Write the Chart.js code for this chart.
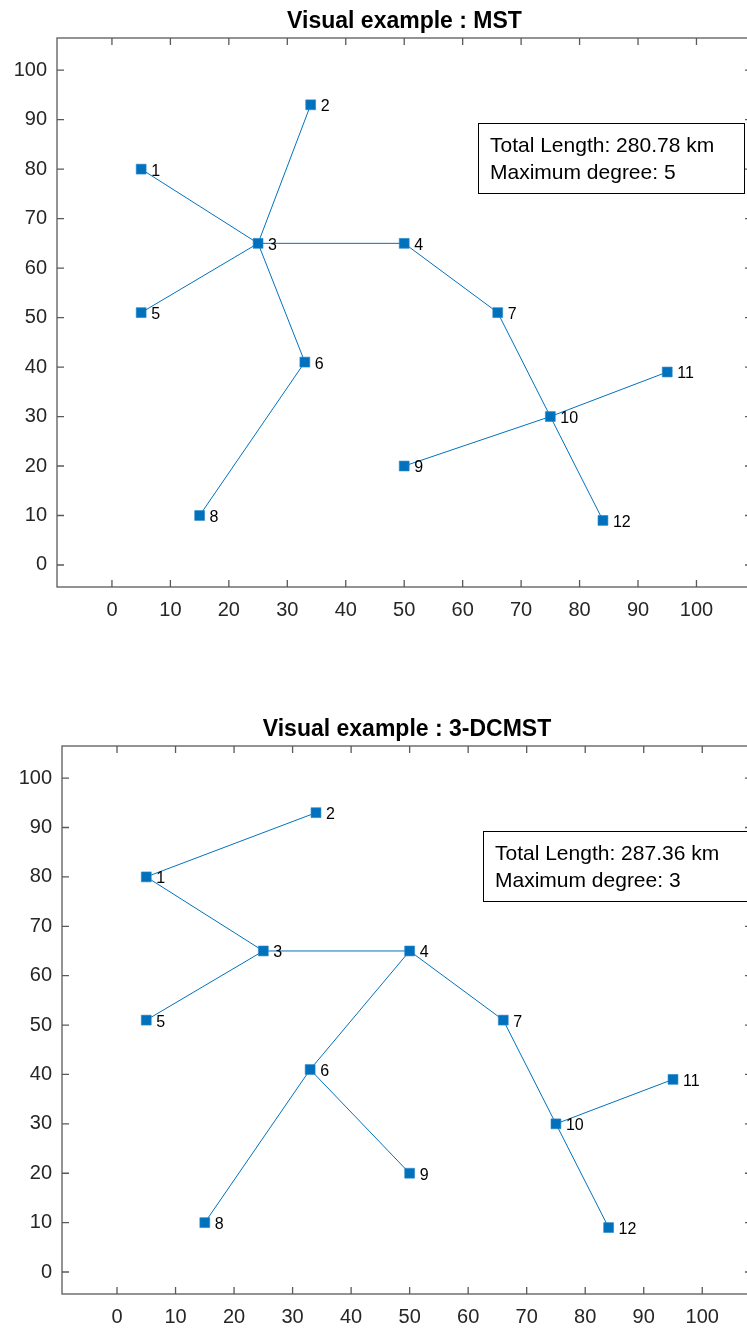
<!DOCTYPE html>
<html lang="en">
<head>
<meta charset="UTF-8">
<title>Visual example : MST / 3-DCMST</title>
<script src="https://cdn.jsdelivr.net/npm/chart.js"></script>
<style>
    html, body {
        margin: 0;
        padding: 0;
        background: #fff;
        width: 747px;
        height: 1330px;
        overflow: hidden;
    }
    .plot { position: absolute; left: 0; }
    #mstChart { top: 0; }
    #dcmstChart { top: 665px; }
</style>
</head>
<body>
<canvas id="mstChart" class="plot" width="760" height="665"></canvas>
<canvas id="dcmstChart" class="plot" width="760" height="665"></canvas>
<script>
// node coordinates (same nodes in both plots)
const nodeIds = [1, 2, 3, 4, 5, 6, 7, 8, 9, 10, 11, 12];
const nodeX = [5, 34, 25, 50, 5, 33, 66, 15, 50, 75, 95, 84];
const nodeY = [80, 93, 65, 65, 51, 41, 51, 10, 20, 30, 39, 9];

// tree edges as [from, to] node ids
const mstEdges = [[1, 3], [2, 3], [3, 4], [3, 5], [3, 6], [6, 8], [4, 7], [7, 10], [10, 9], [10, 11], [10, 12]];
const dcmstEdges = [[1, 2], [1, 3], [3, 5], [3, 4], [4, 6], [6, 8], [6, 9], [4, 7], [7, 10], [10, 11], [10, 12]];

const tickValues = [0, 10, 20, 30, 40, 50, 60, 70, 80, 90, 100];

const mstInfo = ['Total Length: 280.78 km', 'Maximum degree: 5'];
const dcmstInfo = ['Total Length: 287.36 km', 'Maximum degree: 3'];

const BLUE = '#0072BD';
const AXIS = '#5a5a5a';
const FONT = '"Liberation Sans", Arial, sans-serif';

// draws the matlab style box, inward ticks, title, node labels and textbox
const matlabLook = {
    id: 'matlabLook',
    beforeDatasetsDraw(chart) {
        const { ctx, chartArea: a, scales: { x, y } } = chart;
        ctx.save();
        ctx.strokeStyle = AXIS;
        ctx.lineWidth = 1.3;
        ctx.strokeRect(a.left, a.top, a.right - a.left, a.bottom - a.top);
        ctx.beginPath();
        x.ticks.forEach(t => {
            const px = x.getPixelForValue(t.value);
            ctx.moveTo(px, a.bottom); ctx.lineTo(px, a.bottom - 7);
            ctx.moveTo(px, a.top); ctx.lineTo(px, a.top + 7);
        });
        y.ticks.forEach(t => {
            const py = y.getPixelForValue(t.value);
            ctx.moveTo(a.left, py); ctx.lineTo(a.left + 7, py);
            ctx.moveTo(a.right, py); ctx.lineTo(a.right - 7, py);
        });
        ctx.stroke();
        ctx.restore();
    },
    afterDraw(chart, args, opts) {
        const { ctx, chartArea: a, scales: { x, y } } = chart;
        ctx.save();

        // title
        ctx.fillStyle = '#000';
        ctx.font = 'bold 23px ' + FONT;
        ctx.textAlign = 'center';
        ctx.textBaseline = 'alphabetic';
        ctx.fillText(opts.title, (a.left + a.right) / 2, a.top - 10);

        // node numbers
        ctx.font = '16px ' + FONT;
        ctx.textAlign = 'left';
        ctx.textBaseline = 'middle';
        nodeIds.forEach((id, i) => {
            const px = x.getPixelForValue(nodeX[i]);
            const py = y.getPixelForValue(nodeY[i]);
            ctx.fillText(String(id), px + 10, py + 2);
        });

        // info textbox
        const bx = a.left + 421, by = a.top + 85;
        ctx.fillStyle = '#fff';
        ctx.fillRect(bx, by, 266, 70);
        ctx.strokeStyle = '#000';
        ctx.lineWidth = 1;
        ctx.strokeRect(bx + 0.5, by + 0.5, 266, 70);
        ctx.fillStyle = '#000';
        ctx.font = '21px ' + FONT;
        ctx.textBaseline = 'alphabetic';
        ctx.fillText(opts.info[0], bx + 12, by + 29);
        ctx.fillText(opts.info[1], bx + 12, by + 56);
        ctx.restore();
    }
};

function buildDatasets(edges) {
    const sets = edges.map(([from, to]) => ({
        data: [
            { x: nodeX[from - 1], y: nodeY[from - 1] },
            { x: nodeX[to - 1], y: nodeY[to - 1] }
        ],
        showLine: true,
        borderColor: BLUE,
        borderWidth: 1,
        pointRadius: 0,
        order: 1
    }));
    sets.push({
        data: nodeX.map((v, i) => ({ x: v, y: nodeY[i] })),
        showLine: false,
        pointStyle: 'rect',
        pointRadius: 7,
        backgroundColor: BLUE,
        borderColor: '#2a86c8',
        borderWidth: 0.6,
        order: 0
    });
    return sets;
}

function createPlot(canvasId, edges, title, info, topPad, yWidth, xHeight, xMax) {
    new Chart(document.getElementById(canvasId), {
        type: 'scatter',
        data: { datasets: buildDatasets(edges) },
        plugins: [matlabLook],
        options: {
            responsive: false,
            animation: false,
            events: [],
            layout: { padding: { top: topPad, right: 8, left: 0, bottom: 0 } },
            scales: {
                x: {
                    type: 'linear',
                    min: -9.4,
                    max: xMax,
                    afterBuildTicks: s => { s.ticks = tickValues.map(v => ({ value: v })); },
                    afterFit: s => { s.height = xHeight; },
                    grid: { display: false, drawTicks: false },
                    border: { display: false },
                    ticks: { color: '#262626', padding: 11, font: { family: FONT, size: 20 } }
                },
                y: {
                    type: 'linear',
                    min: -4.45,
                    max: 106.5,
                    afterBuildTicks: s => { s.ticks = tickValues.map(v => ({ value: v })); },
                    afterFit: s => { s.width = yWidth; },
                    grid: { display: false, drawTicks: false },
                    border: { display: false },
                    ticks: { color: '#262626', padding: 10, font: { family: FONT, size: 20 } }
                }
            },
            plugins: {
                legend: { display: false },
                tooltip: { enabled: false },
                title: { display: false },
                matlabLook: { title: title, info: info }
            }
        }
    });
}

createPlot('mstChart', mstEdges, 'Visual example : MST', mstInfo, 38, 57, 78, 109.5);
createPlot('dcmstChart', dcmstEdges, 'Visual example : 3-DCMST', dcmstInfo, 81, 62, 36, 108.5);
</script>
</body>
</html>
